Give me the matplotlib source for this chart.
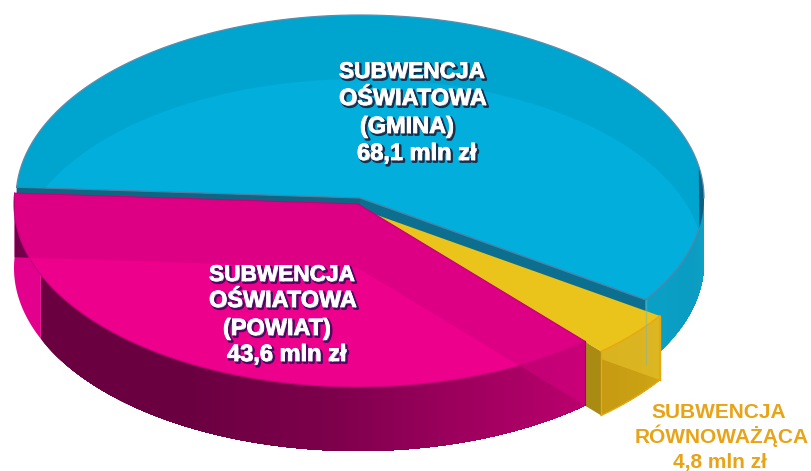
import numpy as np
import matplotlib
matplotlib.use("Agg")
import matplotlib.pyplot as plt
import matplotlib.patheffects as pe
from matplotlib.colors import to_rgb
from matplotlib.patches import Polygon

labels = ["GMINA", "ROWNOWAZACA", "POWIAT"]
values = [68.1, 4.8, 43.6]

gmina_lines = ["SUBWENCJA", "OŚWIATOWA", "(GMINA)", "68,1 mln zł"]
powiat_lines = ["SUBWENCJA", "OŚWIATOWA", "(POWIAT)", "43,6 mln zł"]
rown_lines = ["SUBWENCJA", "RÓWNOWAŻĄCA", "4,8 mln zł"]

rx = 344
ry = 183
depth = 64
start_angle = 176.6

plt.rcParams['font.family'] = ['Liberation Sans', 'DejaVu Sans']
fig = plt.figure(figsize=(8.11, 4.71), dpi=100)
ax = fig.add_axes([0, 0, 1, 1])
ax.set_xlim(0, 811)
ax.set_ylim(471, 0)
ax.axis("off")

sweeps = np.array(values) / sum(values) * 360
ends = start_angle - np.cumsum(sweeps)
starts = ends + sweeps
blue_a = (starts[0], ends[0])
yellow_a = (starts[1], ends[1])
pink_a = (starts[2], ends[2])


def rim(cx, cy, a1, a2, n=200):
    t = np.radians(np.linspace(a1, a2, n))
    return np.column_stack([cx + rx * np.cos(t), cy - ry * np.sin(t)])


def shift(pts):
    return pts + np.array([0, depth])


def wedge(cx, cy, a1, a2):
    return np.vstack([[cx, cy], rim(cx, cy, a1, a2)])


def side(cx, cy, a1, a2):
    r = rim(cx, cy, a1, a2)
    return np.vstack([r, shift(r)[::-1]])


def radial_wall(cx, cy, a):
    p = rim(cx, cy, a, a, 1)[0]
    c = np.array([cx, cy])
    return np.array([c, p, p + [0, depth], c + [0, depth]])


def add_poly(pts, color, z, alpha=None, clip=None):
    p = Polygon(pts, closed=True, facecolor=color, edgecolor="none", linewidth=0, alpha=alpha, zorder=z)
    ax.add_patch(p)
    if clip is not None:
        cp = Polygon(clip, closed=True, transform=ax.transData)
        p.set_clip_path(cp)
    return p


def shaded_side(cx, cy, a1, a2, anchors, colors, z, n=150):
    # each piece runs to the far end so later ones cover the seams
    ang = np.linspace(a1, a2, n + 1)
    rgb = np.array([to_rgb(c) for c in colors])
    for i in range(n):
        mid = (ang[i] + ang[i + 1]) / 2
        col = [np.interp(mid, anchors, rgb[:, k]) for k in range(3)]
        add_poly(side(cx, cy, ang[i], a2), col, z)


# blue slice
bx, by = 360, 198
shaded_side(bx, by, blue_a[1], 0, [blue_a[1], -15, 0], ["#0aa0c6", "#0a9cc2", "#12a2c6"], 1, 60)
blue_top = wedge(bx, by, *blue_a)
add_poly(blue_top, "#00a5cf", 2)
floor = rim(bx, by + depth, blue_a[1], blue_a[0], 300)
floor_poly = np.vstack([[bx, by], floor])
add_poly(floor_poly, "#02aedb", 3, clip=blue_top)
chord = rim(bx, by, -9.5, 10, 60)
add_poly(chord, "#0b5f80", 4)
ax.plot(*rim(bx, by, blue_a[0], 0, 300).T, color="#5f8cab", lw=0.9, zorder=5)
ax.plot(*rim(bx, by, blue_a[1], -9.5, 80).T, color="#4f86ac", lw=1.0, zorder=5)
add_poly(radial_wall(bx, by, blue_a[0]), "#0f6582", 6)
add_poly(radial_wall(bx, by, blue_a[1]), "#0c6f8f", 6)
c = np.array([bx, by])
ax.plot(*np.array([rim(bx, by, blue_a[0], blue_a[0], 1)[0], c, rim(bx, by, blue_a[1], blue_a[1], 1)[0]]).T,
        color="#4f7fa3", lw=0.9, zorder=6)
p_seam = rim(bx, by, blue_a[1], blue_a[1], 1)[0]

# yellow slice
yx, yy = 374, 214
add_poly(radial_wall(yx, yy, yellow_a[1]), "#a98a12", 7)
y_front = side(yx, yy, *yellow_a)
shaded_side(yx, yy, yellow_a[1], yellow_a[0], [yellow_a[1], yellow_a[0]], ["#c69a12", "#cda514"], 8, 20)
y_band = radial_wall(yx, yy, yellow_a[0])
add_poly(y_band, "#e8c42c", 9, alpha=0.6, clip=y_front)
add_poly(wedge(yx, yy, *yellow_a), "#eac41a", 10)
ax.plot(*side(yx, yy, *yellow_a)[200:].T, color="#e8a80f", lw=1.0, zorder=11)
ax.plot(*rim(yx, yy, *yellow_a, 40).T, color="#e8a80f", lw=1.0, zorder=11)
for a in yellow_a:
    p = rim(yx, yy, a, a, 1)[0]
    ax.plot([p[0], p[0]], [p[1], p[1] + depth], color="#e8a80f", lw=1.0, zorder=11)
ax.plot([p_seam[0], p_seam[0]], [p_seam[1], p_seam[1] + depth], color="#6fb6c8", lw=1.0, alpha=0.45, zorder=11)

# magenta slice, angles run from the yellow edge round to the far left
mx, my = 358, 204
left_t = -157.2
shaded_side(mx, my, left_t, pink_a[0],
            [left_t, -120, -95, -75, pink_a[0]],
            ["#6a0040", "#6a0040", "#7c004b", "#9a005c", "#bb006e"], 12)
# lighter bit of the wall at the far left
left_side = side(mx, my, pink_a[1], left_t)
add_poly(left_side, "#e2008c", 12)
pink_top = wedge(mx, my, *pink_a)
add_poly(pink_top, "#ec008c", 13)
wall_l = radial_wall(mx, my, pink_a[1])
wall_r = radial_wall(mx, my, pink_a[0])
band = np.array([wall_l[1], wall_l[0], wall_r[1], wall_r[2], wall_r[3], wall_l[2]])
add_poly(band, "#d40080", 14, alpha=0.6, clip=pink_top)
right_side = side(mx, my, pink_a[0], -75)
add_poly(band, "#d40080", 14, alpha=0.6, clip=right_side)
dark_tri = np.array([wall_l[1] - [5, 5], wall_l[2] + [-5, 0], wall_l[2] + [60, 60 * 10 / 345], wall_l[1] + [60, -5]])
add_poly(dark_tri, "#72004a", 15, clip=left_side)
ax.plot(*rim(mx, my, *pink_a, 300).T, color="#c4007a", lw=0.8, zorder=16)
ax.plot(*np.array([wall_l[1], wall_l[0], wall_r[1]]).T, color="#c4007a", lw=0.8, zorder=16)
ax.plot(*np.vstack([wall_r[1], wall_r[2]]).T, color="#a80068", lw=0.8, zorder=16)


def bold_lines(lines, xs, ys, shadow):
    for s, x, y, fs in zip(lines, xs, ys, [16.3, 16.9, 16.9, 17]):
        ax.text(x, y, s, fontsize=fs, fontweight="bold", color="white", ha="left", va="baseline", zorder=20,
                path_effects=[pe.Stroke(linewidth=1.8, foreground=shadow, offset=(1.2, -1.2)),
                              pe.Stroke(linewidth=0.6, foreground="white"), pe.Normal()])


bold_lines(gmina_lines, [339, 339, 360, 357], [78, 105, 133, 160], "#17304f")
bold_lines(powiat_lines, [209, 209, 223, 227], [281, 307, 335, 361], "#4a0a60")

for s, x, y in zip(rown_lines, [719, 721.5, 720], [418, 443, 468]):
    ax.text(x, y, s, fontsize=15, fontweight="bold", color="#e8a317", ha="center", va="baseline", zorder=20)

fig.savefig("out.png", dpi=100)
